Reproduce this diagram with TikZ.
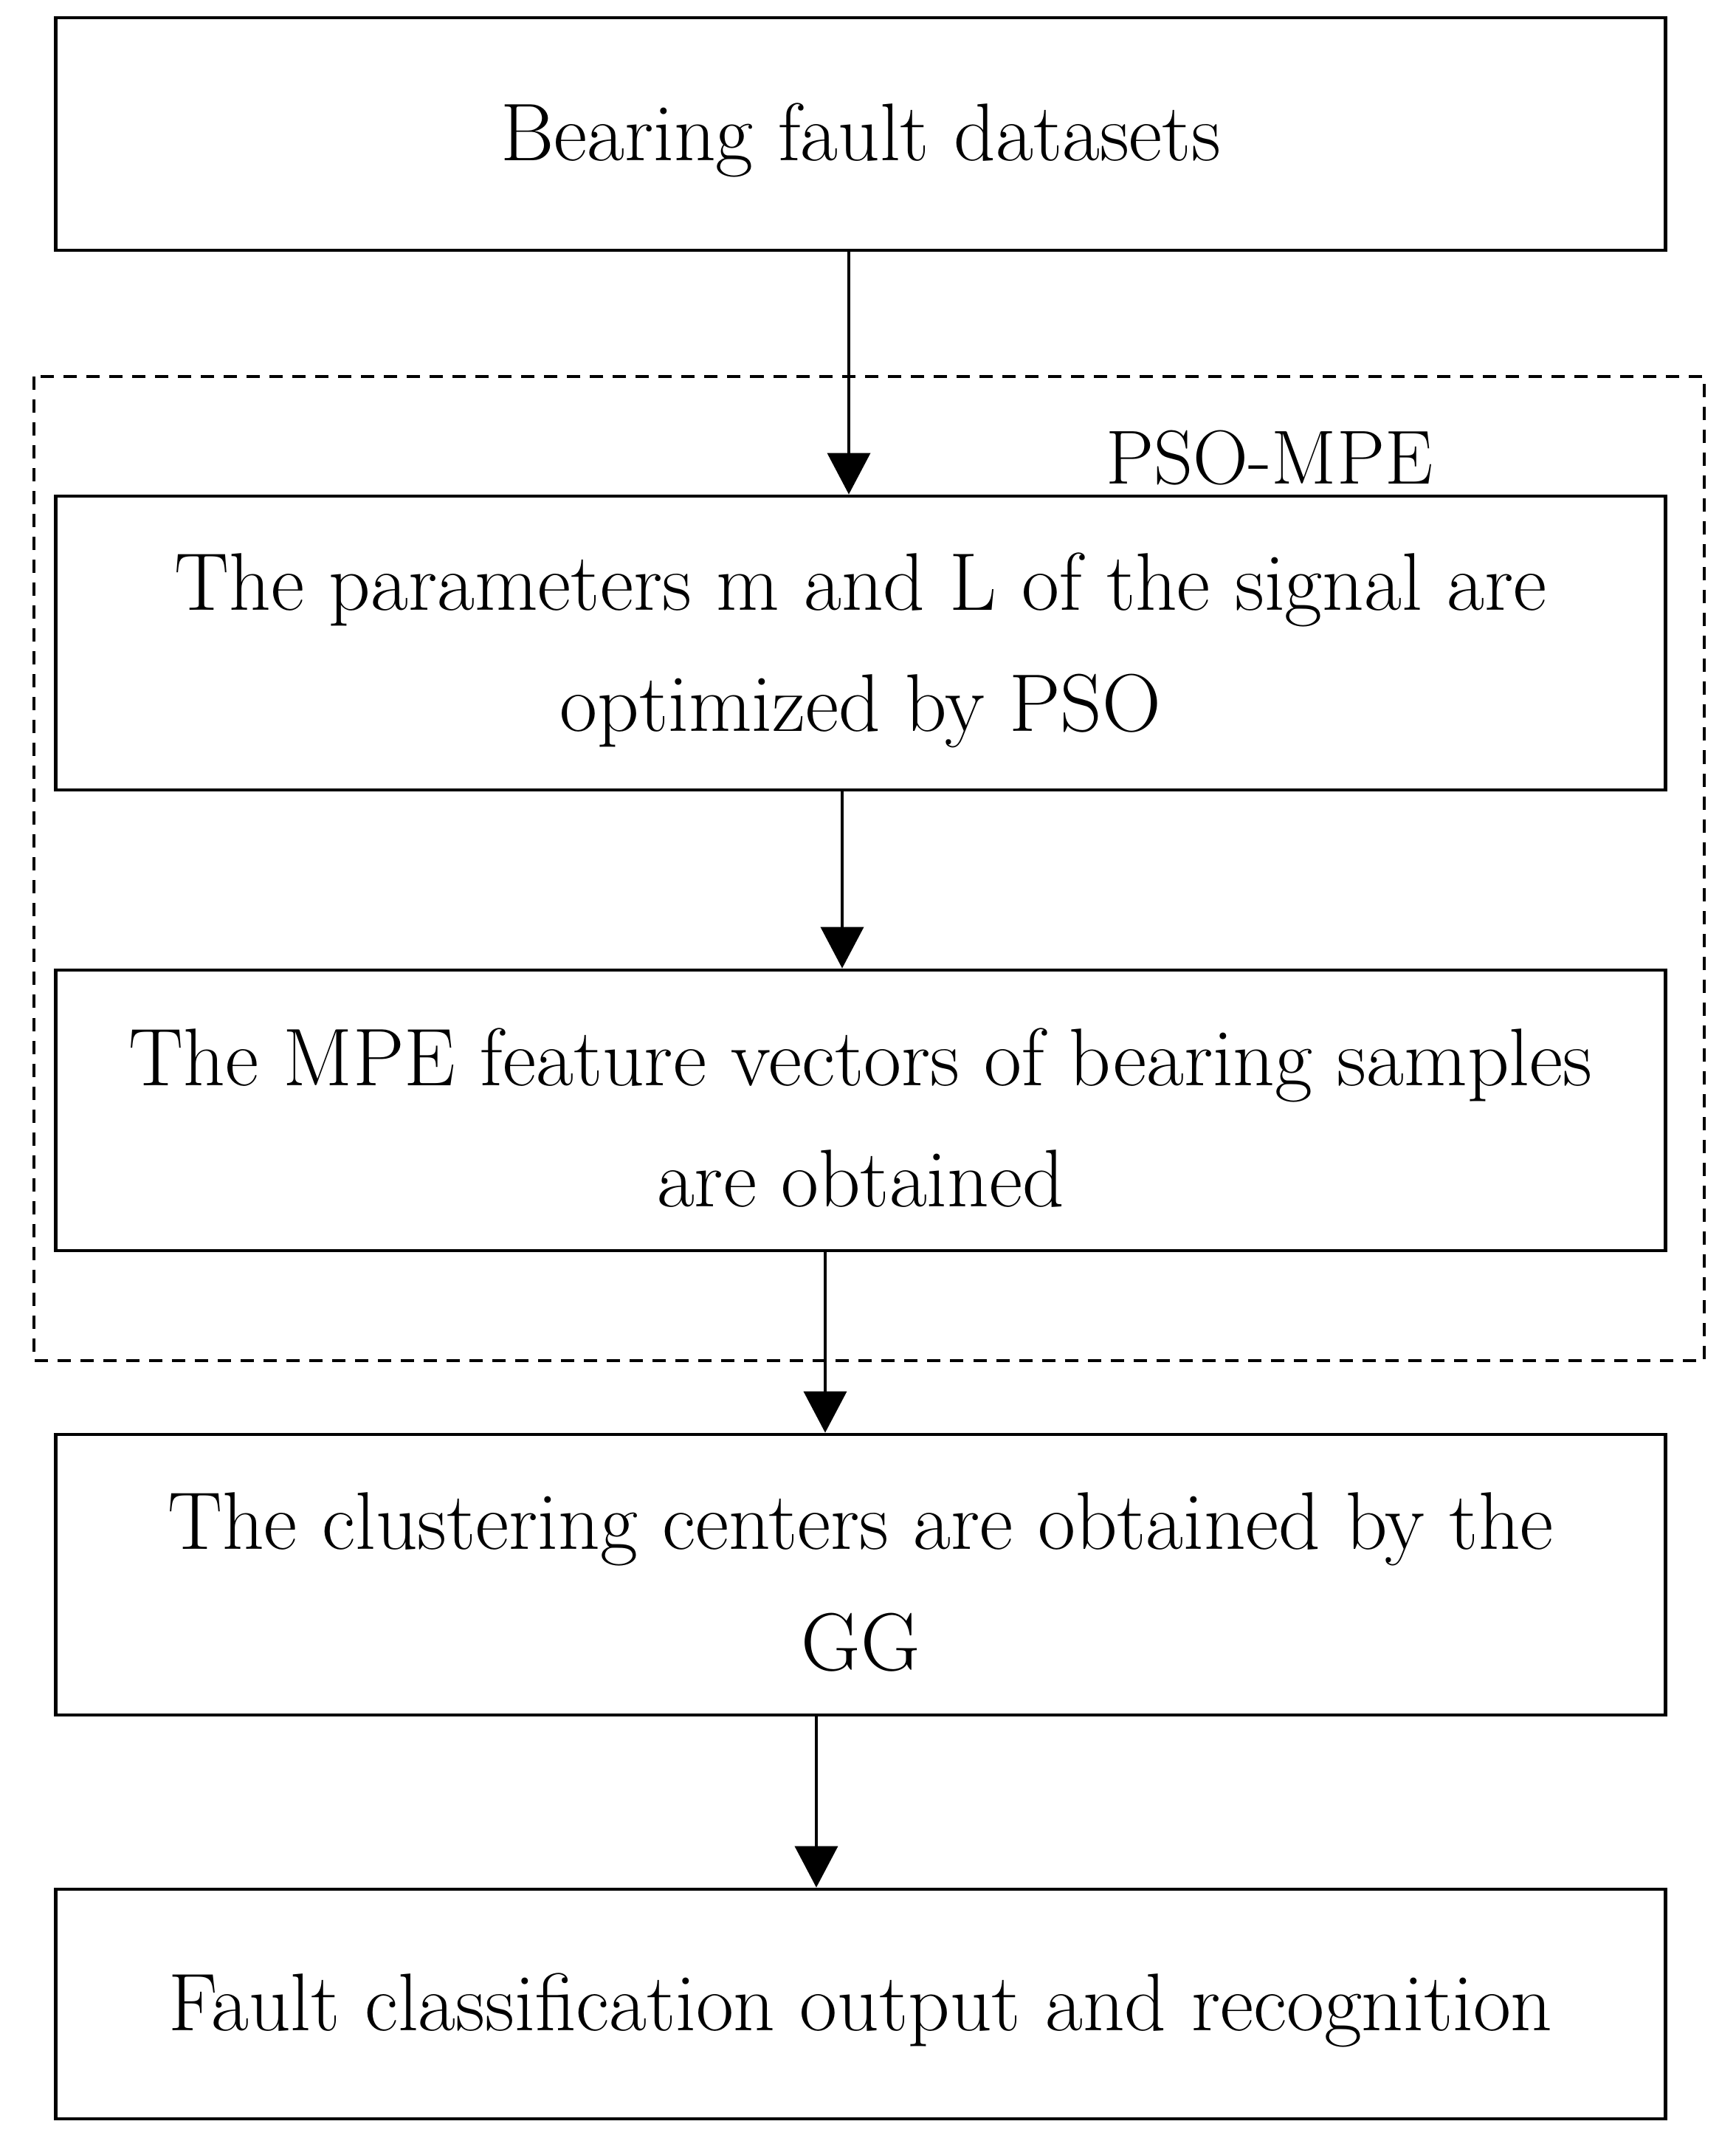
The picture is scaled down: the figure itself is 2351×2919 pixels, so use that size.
\documentclass[tikz,border=0pt]{standalone}
\usetikzlibrary{arrows.meta}
\begin{document}
\begin{tikzpicture}[x=0.01cm,y=-0.01cm,
  flowbox/.style={draw=black,line width=1.3pt,minimum width=21.8cm,inner sep=0pt},
  flowtext/.style={align=center,inner sep=0pt,font=\fontsize{31.5}{46.5}\selectfont},
  arr/.style={line width=1.1pt,-{Triangle[width=0.58cm,length=0.56cm]}},
  groupbox/.style={draw=black,line width=1.1pt,dash pattern=on 0.18cm off 0.13cm}]
\useasboundingbox (0,0) rectangle (2351,2919);
\fill[white] (0,0) rectangle (2351,2919);
\node[flowbox,minimum height=3.15cm] (b1) at (1166,181.5) {};
\node[flowbox,minimum height=3.98cm] (b2) at (1166,871) {};
\node[flowbox,minimum height=3.80cm] (b3) at (1166,1504) {};
\node[flowbox,minimum height=3.80cm] (b4) at (1166,2133) {};
\node[flowbox,minimum height=3.11cm] (b5) at (1166,2714.5) {};
\node[flowtext] (t1) at ([yshift=-0.08cm]b1.center) {Bearing fault datasets};
\node[flowtext] (t2) at ([yshift=-0.1cm]b2.center) {The parameters m and L of the signal are\\optimized by PSO};
\node[flowtext] (t3) at ([yshift=-0.1cm]b3.center) {The MPE feature vectors of bearing samples\\are obtained};
\node[flowtext] (t4) at ([yshift=-0.1cm]b4.center) {The clustering centers are obtained by the\\GG};
\node[flowtext] (t5) at ([yshift=-0.08cm]b5.center) {Fault classification output and recognition};
\draw[groupbox] (46,510) rectangle (2309,1843);
\node[anchor=base,inner sep=0pt,font=\fontsize{29.5}{34}\selectfont] (lbl) at (1720,656) {PSO-MPE};
\draw[arr] ([xshift=-0.16cm]b1.south) -- ([xshift=-0.16cm]b2.north);
\draw[arr] ([xshift=-0.25cm]b2.south) -- ([xshift=-0.25cm]b3.north);
\draw[arr] ([xshift=-0.48cm]b3.south) -- ([xshift=-0.48cm]b4.north);
\draw[arr] ([xshift=-0.60cm]b4.south) -- ([xshift=-0.60cm]b5.north);
\end{tikzpicture}
\end{document}
